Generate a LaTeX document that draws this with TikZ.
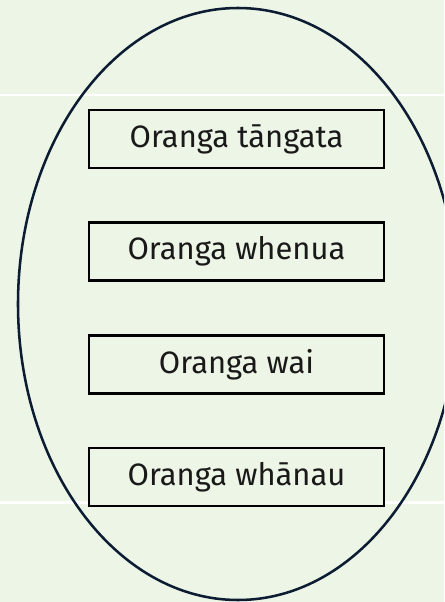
\documentclass[tikz,border=0pt]{standalone}
\usepackage{fontspec}
\setmainfont{Fira Sans}
\usepackage{tikz}
\usetikzlibrary{positioning,shapes.geometric}

\definecolor{paleleaf}{HTML}{EDF5E6}
\definecolor{inknavy}{HTML}{0C1D33}

\begin{document}
\begin{tikzpicture}[
  oranga/.style={
    rectangle, minimum width=7.375cm, minimum height=1.45cm,
    draw=black, line width=1.6pt, fill=paleleaf, text=black!90,
    font=\fontsize{22}{26}\selectfont
  },
  outer/.style={
    ellipse, minimum width=11cm, minimum height=14.8cm, inner sep=0pt,
    draw=inknavy, line width=1.8pt
  },
  band/.style={white, line width=1.6pt}
]

% === Background ===
\useasboundingbox (0,0) rectangle (11.1,-15.05);
\clip (0,0) rectangle (11.1,-15.05);
\fill[paleleaf] (0,0) rectangle (11.1,-15.05);

% === Band lines ===
\draw[band] (0,-2.375) -- (11.1,-2.375);
\draw[band] (0,-12.56) -- (11.1,-12.56);

% === Enclosing ellipse ===
\node[outer] (whole) at (5.95,-7.6) {};

% === Boxes ===
\node[oranga] (tangata) at (5.9125,-3.475) {Oranga tāngata};
\node[oranga] (whenua) at (5.9125,-6.29) {Oranga whenua};
\node[oranga] (wai) at (5.9125,-9.11) {Oranga wai};
\node[oranga] (whanau) at (5.9125,-11.925) {Oranga whānau};

\end{tikzpicture}
\end{document}
